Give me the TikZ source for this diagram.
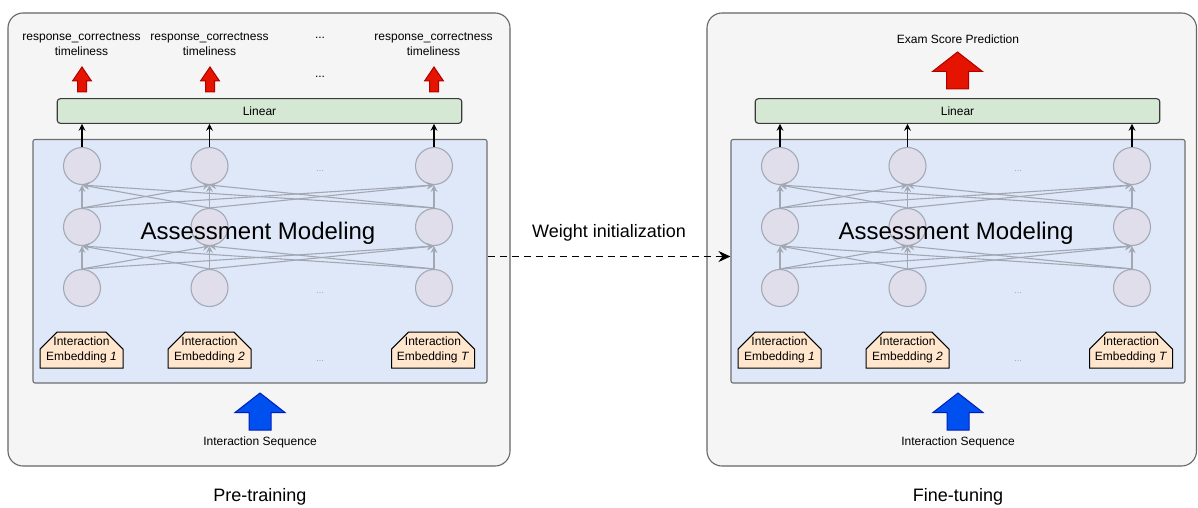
\documentclass[tikz,border=0pt]{standalone}
\usepackage{fontspec}
\setmainfont{Liberation Sans}
\usepackage{tikz}
\usetikzlibrary{positioning, calc, shapes.geometric, shapes.misc, arrows.meta}
\definecolor{panelfill}{HTML}{F5F5F5}
\definecolor{panelline}{HTML}{666666}
\definecolor{modelfill}{HTML}{DFE8F8}
\definecolor{modelline}{HTML}{6E6E6E}
\definecolor{linearfill}{HTML}{D5E8D4}
\definecolor{linearline}{HTML}{3A3A3A}
\definecolor{neuronfill}{HTML}{E0DEEB}
\definecolor{neuronline}{HTML}{A3A9B6}
\definecolor{edgegray}{HTML}{A1A8B4}
\definecolor{embedfill}{HTML}{FFE6CC}
\definecolor{dotgray}{HTML}{A0A0A0}
\definecolor{outred}{HTML}{E51400}
\definecolor{outredline}{HTML}{B20000}
\definecolor{inblue}{HTML}{0050EF}
\definecolor{inblueline}{HTML}{001DBC}
\tikzstyle{Arrow} = [
%Create custom arrow style:
line width = 1.3pt,
-{Stealth[length = 7pt, width = 7pt, inset = 2.5pt]}
]
\tikzstyle{GrayArrow} = [
%Thin grey arrows between the layers:
line width = 1.1pt, draw = edgegray,
-{Stealth[length = 7pt, width = 7pt, inset = 2.5pt]}
]
\tikzset{
	pics/UpArrow/.style = {code = {\draw[pic actions] (-4.5,0) -- (-4.5,-11) -- (-9.5,-11) -- (0,-25) -- (9.5,-11) -- (4.5,-11) -- (4.5,0) -- cycle;}},
	pics/BigUpArrow/.style = {code = {\draw[pic actions] (-11,0) -- (-11,-17.5) -- (-25,-17.5) -- (0,-37) -- (25,-17.5) -- (11,-17.5) -- (11,0) -- cycle;}}
}

\begin{document}
\begin{tikzpicture}[
				x = 1pt, y = -1pt,
				panel/.style = {rectangle, rounded corners = 15pt, draw = panelline, fill = panelfill, line width = 1.1pt, inner sep = 0pt},
				model/.style = {rectangle, rounded corners = 2pt, draw = modelline, fill = modelfill, line width = 1.1pt, minimum width = 454pt, minimum height = 243.5pt, inner sep = 0pt},
				linear/.style = {rectangle, rounded corners = 3pt, draw = linearline, fill = linearfill, line width = 1.1pt, minimum width = 404.5pt, minimum height = 24.6pt, inner sep = 0pt, font = \fontsize{12}{15}\selectfont},
				neuron/.style = {circle, draw = neuronline, fill = neuronfill, line width = 1.1pt, minimum size = 37pt, inner sep = 0pt},
				embed/.style = {chamfered rectangle, chamfered rectangle corners = {north west, north east}, chamfered rectangle xsep = 12pt, chamfered rectangle ysep = 12pt, draw, fill = embedfill, line width = 1pt, minimum width = 83pt, minimum height = 36pt, inner xsep = -8pt, inner ysep = -8pt, align = center, font = \fontsize{12}{15}\selectfont},
				small/.style = {align = center, font = \fontsize{12}{15}\selectfont},
				dots/.style = {text = dotgray, font = \fontsize{9}{10}\selectfont},
				caption/.style = {font = \fontsize{18}{21}\selectfont},
			]
			\useasboundingbox (0,0) rectangle (1198,508);

			\node[panel, minimum width = 502pt, minimum height = 453pt](Lpanel) at (259,239.5){};
			\node[panel, minimum width = 489.5pt, minimum height = 453pt](Rpanel) at (951.75,239.5){};

			\foreach \p/\dx in {L/0, R/698}{
				\node[model](\p model) at (260+\dx,261.25){};
				\node[linear](\p linear) at (259.5+\dx,111){Linear};
				\foreach \c/\x in {1/82, 2/209.5, 3/434}{
					\foreach \r/\y in {1/166, 2/227, 3/288}
						\node[neuron](\p n\r\c) at (\x+\dx,\y){};
					\draw[Arrow](\p n1\c.north)--(\p n1\c.north |- \p linear.south);
				}
				\foreach \r/\s in {2/1, 3/2}
					\foreach \a in {1,2,3}
						\foreach \b in {1,2,3}
							\draw[GrayArrow](\p n\r\a.north)--(\p n\s\b.south);
				\node[dots](\p dtop) at (320+\dx,171){...};
				\node[dots](\p dbot) at (320+\dx,293){...};
				\node[dots](\p demb) at (320+\dx,361){...};
				\node[font = \fontsize{24}{28}\selectfont](\p title) at (258+\dx,233){Assessment Modeling};
				\foreach \c/\x/\t in {1/81.5/1, 2/209.5/2, 3/433/T}
					\node[embed](\p e\c) at (\x+\dx,350){Interaction\\Embedding \textit{\t}};
				\pic[fill = inblue, draw = inblueline, line width = 1pt] at (260+\dx,430){BigUpArrow};
				\node[small](\p seq) at (260+\dx,442){Interaction Sequence};
			}

			\foreach \c/\x in {1/82, 2/210, 3/434}{
				\node[small](out\c) at (\x-0.5,44.5){response\_correctness\\timeliness};
				\pic[fill = outred, draw = outredline, line width = 1pt] at (\x,92){UpArrow};
			}
			\node[small](outdots) at (320,38){...};
			\node[small](arrdots) at (320,77){...};

			\node[small](exam) at (958,39){Exam Score Prediction};
			\pic[fill = outred, draw = outredline, line width = 1pt] at (957.5,89){BigUpArrow};

			\draw[line width = 1.7pt, dash pattern = on 7pt off 5pt, -{Stealth[length = 12pt, width = 11pt, inset = 4pt]}]([yshift = 4.75pt]Lmodel.east)--node[midway, above = 14pt, caption, inner sep = 0pt] {Weight initialization}([yshift = 4.75pt]Rmodel.west);

			\node[caption](pre) at (260,497){Pre-training};
			\node[caption](fine) at (958,497){Fine-tuning};

		\end{tikzpicture}
\end{document}
